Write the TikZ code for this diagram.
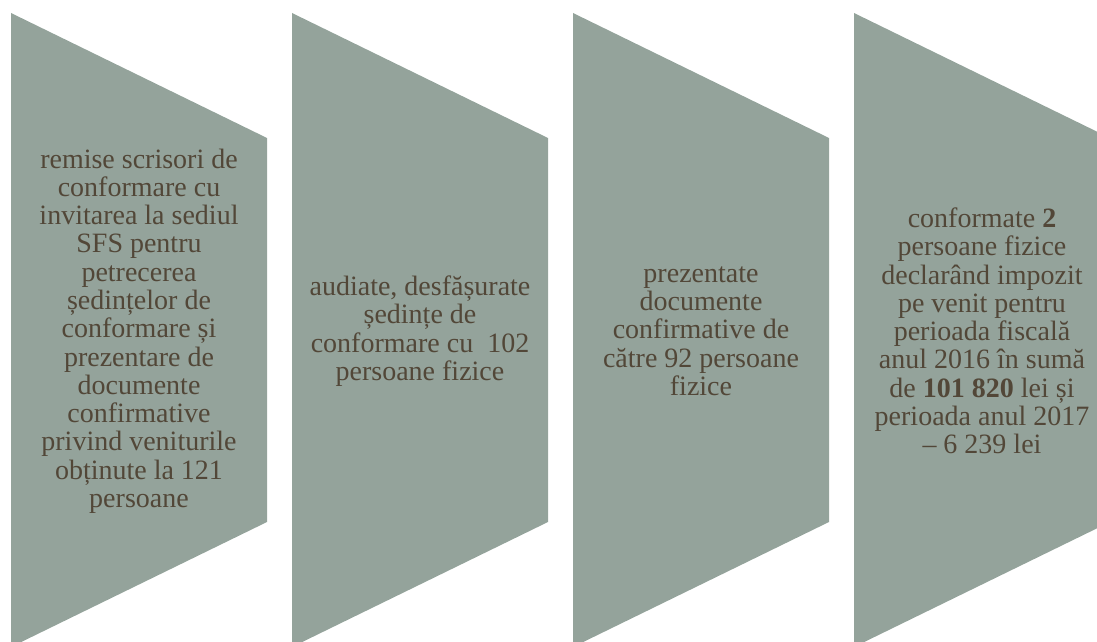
\documentclass[tikz,border=0pt]{standalone}
\usepackage{fontspec}
\setmainfont{Liberation Serif}
\definecolor{sagegray}{RGB}{148, 163, 155}
\definecolor{inkbrown}{RGB}{82, 71, 56}

\begin{document}
\begin{tikzpicture}[x=0.75pt, y=-0.75pt,
  chev/.style={fill=sagegray},
  txt/.style={text=inkbrown, align=center, inner sep=0pt, font=\fontsize{21}{21.2}\selectfont},
]
\useasboundingbox (0,0) rectangle (1097,642);
\clip (0,0) rectangle (1097,642);

% Four steps
\fill[chev] (11,13) -- (267,138) -- (267,522) -- (11,647) -- cycle;
\fill[chev] (292,13) -- (548,138) -- (548,522) -- (292,647) -- cycle;
\fill[chev] (573,13) -- (829,138) -- (829,522) -- (573,647) -- cycle;
\fill[chev] (854,13) -- (1110,138) -- (1110,522) -- (854,647) -- cycle;

% Step texts
\node[txt] (scrisori) at (139,331)
{remise scrisori de\\conformare cu\\invitarea la sediul\\SFS pentru\\petrecerea\\ședințelor de\\conformare și\\prezentare de\\documente\\confirmative\\privind veniturile\\obținute la 121\\persoane};

\node[txt] (audiate) at (420,331)
{audiate, desfășurate\\ședințe de\\conformare cu\ \ 102\\persoane fizice};

\node[txt] (prezentate) at (701,331)
{prezentate\\documente\\confirmative de\\către 92 persoane\\fizice};

\node[txt] (conformate) at (982,331)
{conformate \textbf{2}\\persoane fizice\\declarând impozit\\pe venit pentru\\perioada fiscală\\anul 2016 în sumă\\de \textbf{101 820} lei și\\perioada anul 2017\\– 6 239 lei};
\end{tikzpicture}
\end{document}
